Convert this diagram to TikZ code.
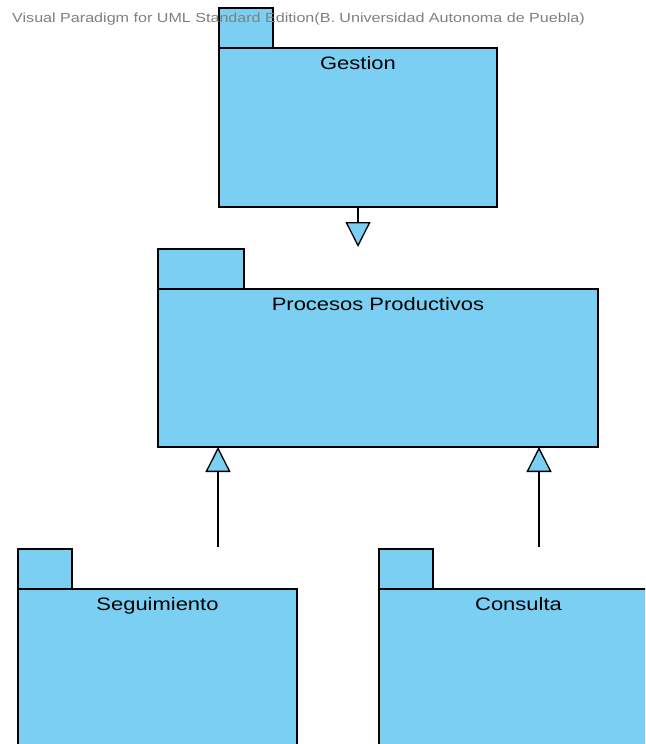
\documentclass[tikz,border=0pt]{standalone}
\usepackage{fontspec}
\usetikzlibrary{arrows.meta}
\newfontfamily\lblfont[FakeStretch=1.22]{Liberation Sans}
\definecolor{pkg}{RGB}{122,207,243}
\definecolor{mark}{RGB}{128,128,128}
\begin{document}
\begin{tikzpicture}[x=1pt,y=-1pt,
  pkgbody/.style={draw, fill=pkg, line width=1.3pt, rectangle, anchor=north west, inner sep=0pt, outer sep=0pt},
  pkgtab/.style={draw, fill=pkg, line width=1.3pt, rectangle, anchor=south west, inner sep=0pt, outer sep=0pt, minimum height=40pt},
  pkgtitle/.style={font=\lblfont\fontsize{18}{20}\selectfont, anchor=base, inner sep=0pt},
  gen/.style={line width=1.3pt, -{Triangle[length=25pt,width=25pt,fill=pkg]}}
]
\useasboundingbox (0,0) rectangle (645,744);
\clip (0,0) rectangle (645,744);
\fill[white] (0,0) rectangle (645,744);

% Gestion
\node[pkgtab, minimum width=54pt] (gesttab) at (219,48) {};
\node[pkgbody, minimum width=278pt, minimum height=159pt] (gest) at (219,48) {};
\node[pkgtitle] (gesttitle) at ([yshift=-21.5pt]gest.north) {Gestion};

% Procesos Productivos
\node[pkgtab, minimum width=86pt] (proctab) at (158,289) {};
\node[pkgbody, minimum width=440pt, minimum height=158pt] (proc) at (158,289) {};
\node[pkgtitle] (proctitle) at ([yshift=-21.5pt]proc.north) {Procesos Productivos};

% Seguimiento
\node[pkgtab, minimum width=54pt] (segtab) at (18,589) {};
\node[pkgbody, minimum width=279pt, minimum height=200pt] (seg) at (18,589) {};
\node[pkgtitle] (segtitle) at ([yshift=-21.5pt]seg.north) {Seguimiento};

% Consulta
\node[pkgtab, minimum width=54pt] (constab) at (379,589) {};
\node[pkgbody, minimum width=279pt, minimum height=200pt] (cons) at (379,589) {};
\node[pkgtitle] (constitle) at ([yshift=-21.5pt]cons.north) {Consulta};

% generalization connectors
\coordinate (gesttip) at (358,247);
\coordinate (segfoot) at (218,547);
\coordinate (consfoot) at (539,547);
\draw[gen] (gest.south -| gesttip) -- (gesttip);
\draw[gen] (segfoot) -- (proc.south -| segfoot);
\draw[gen] (consfoot) -- (proc.south -| consfoot);

% edition banner
\node[font=\lblfont\fontsize{13.2}{15}\selectfont, text=mark, anchor=base west, inner sep=0pt] (banner) at (12,22)
  {Visual Paradigm for UML Standard Edition(B. Universidad Autonoma de Puebla)};
\end{tikzpicture}
\end{document}
